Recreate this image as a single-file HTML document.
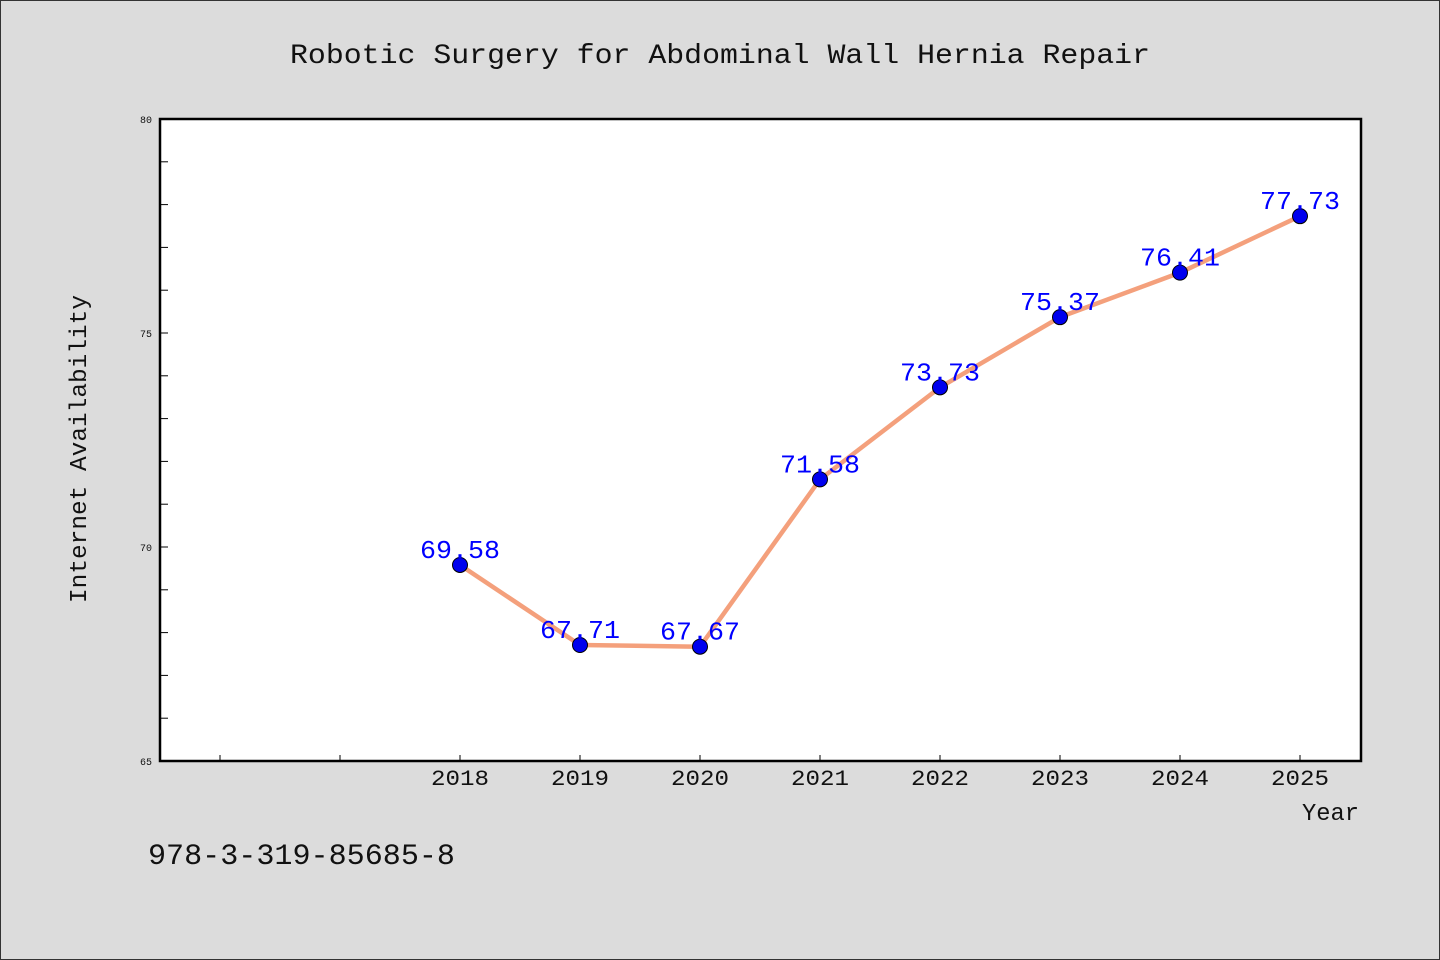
<!DOCTYPE html>
<html><head><meta charset="utf-8"><style>
html,body{margin:0;padding:0;background:#dcdcdc;}
svg{display:block;font-family:"WenQuanYi Zen Hei Mono","WenQuanYi Zen Hei","Liberation Mono",monospace;}
</style></head><body>
<svg width="1440" height="960" viewBox="0 0 1440 960">
<rect x="0.5" y="0.5" width="1439" height="959" fill="#dcdcdc" stroke="#333"/>
<text x="290" y="63" textLength="860" lengthAdjust="spacingAndGlyphs" font-size="28" fill="#111">Robotic Surgery for Abdominal Wall Hernia Repair</text>
<rect x="160" y="119" width="1201" height="642" fill="#fff" stroke="#000" stroke-width="2.5"/>
<g id="axes"></g>
<g id="series"></g>
<text x="86" y="603" transform="rotate(-90 86 603)" textLength="308" lengthAdjust="spacingAndGlyphs" font-size="24" fill="#111">Internet Availability</text>
<text x="1302" y="820" textLength="57" lengthAdjust="spacingAndGlyphs" font-size="24" fill="#111">Year</text>
<text x="148" y="864" textLength="307" lengthAdjust="spacingAndGlyphs" font-size="30" fill="#111">978-3-319-85685-8</text>
</svg>
<script>
const years=[2018,2019,2020,2021,2022,2023,2024,2025];
const values=[69.58,67.71,67.67,71.58,73.73,75.37,76.41,77.73];
const labels=["69.58","67.71","67.67","71.58","73.73","75.37","76.41","77.73"];
const yTicks=[65,70,75,80];
const xTickYears=[2016,2017,2018,2019,2020,2021,2022,2023,2024,2025];
const NS="http://www.w3.org/2000/svg";
const X=v=>460+(v-2018)*120;
const Y=v=>761-(v-65)*(642/15);
function mk(tag,attrs,parent,text){const e=document.createElementNS(NS,tag);for(const k in attrs)e.setAttribute(k,attrs[k]);if(text!==undefined)e.textContent=text;parent.appendChild(e);return e;}
const ax=document.getElementById('axes');
for(let v=66;v<80;v++){
  const t=mk('line',{x1:160,x2:168,y1:Y(v),y2:Y(v),stroke:'#000','stroke-width':1},ax);
  
  
}
yTicks.forEach(v=>{
  const t=mk('text',{x:152,y:Y(v)+4,'text-anchor':'end','font-size':10,fill:'#111'},ax,String(v));
  
  
});
xTickYears.forEach(yr=>{
  const t=mk('line',{x1:X(yr),x2:X(yr),y1:755,y2:761,stroke:'#000','stroke-width':1},ax);
  
  
});
years.forEach(yr=>{
  const t=mk('text',{x:X(yr)-29,y:785,textLength:58,lengthAdjust:'spacingAndGlyphs','font-size':22,fill:'#111'},ax,String(yr));
  
  
});
const s=document.getElementById('series');
const line=mk('polyline',{points:years.map((y,i)=>X(y)+','+Y(values[i])).join(' '),fill:'none',stroke:'#f4a07c','stroke-width':4.5,'stroke-linejoin':'round'},s);


years.forEach((yr,i)=>{
  const c=mk('circle',{cx:X(yr),cy:Y(values[i]),r:7.5,fill:'#0000ee',stroke:'#000','stroke-width':1},s);
  
  
  const t=mk('text',{x:X(yr)-40,y:Y(values[i])-7,textLength:80,lengthAdjust:'spacingAndGlyphs','font-size':26,fill:'#0000ff'},s,labels[i]);
  
  
});
</script>
</body></html>
